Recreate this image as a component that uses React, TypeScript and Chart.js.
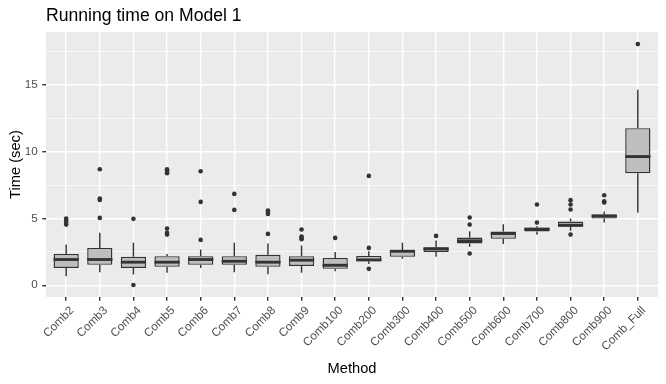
import React, { useEffect, useRef } from 'react';
import { Chart, registerables } from 'chart.js';

Chart.register(...registerables);

const categories = [
  'Comb2', 'Comb3', 'Comb4', 'Comb5', 'Comb6', 'Comb7', 'Comb8', 'Comb9', 'Comb100',
  'Comb200', 'Comb300', 'Comb400', 'Comb500', 'Comb600', 'Comb700', 'Comb800', 'Comb900', 'Comb_Full',
];
const lowerWhisker = [0.68, 0.98, 0.8, 0.93, 1.3, 0.98, 0.83, 0.93, 1.05, 1.6, 1.98, 2.13, 2.88, 3.1, 3.78, 4.08, 4.7, 5.43];
const lowerQuartile = [1.3, 1.53, 1.3, 1.38, 1.53, 1.53, 1.38, 1.45, 1.23, 1.8, 2.13, 2.5, 3.13, 3.48, 4.03, 4.38, 5.0, 8.4];
const medians = [1.93, 1.93, 1.73, 1.73, 1.93, 1.8, 1.73, 1.88, 1.5, 1.9, 2.55, 2.73, 3.33, 3.88, 4.2, 4.5, 5.2, 9.65];
const upperQuartile = [2.35, 2.8, 2.13, 2.18, 2.18, 2.18, 2.28, 2.18, 2.05, 2.2, 2.65, 2.85, 3.58, 4.03, 4.33, 4.78, 5.3, 11.78];
const upperWhisker = [3.05, 3.93, 3.18, 2.35, 2.68, 3.18, 3.13, 2.98, 2.5, 2.55, 3.18, 3.35, 4.05, 4.58, 4.45, 5.0, 5.53, 14.65];
const outliers: number[][] = [
  [4.55, 4.7, 4.85, 5.0],
  [5.05, 6.4, 6.5, 8.7],
  [0.02, 4.98],
  [3.8, 3.93, 4.25, 8.4, 8.5, 8.6, 8.7],
  [3.4, 6.25, 8.55],
  [5.65, 6.85],
  [3.85, 5.35, 5.5, 5.6],
  [3.45, 3.55, 3.65, 4.18],
  [3.55],
  [1.23, 2.8, 8.2],
  [],
  [3.7],
  [2.38, 4.55, 5.08],
  [],
  [4.7, 6.05],
  [3.8, 5.68, 6.05, 6.38],
  [6.2, 6.3, 6.75],
  [18.08],
];
const yMajorTicks = [0, 5, 10, 15];
const yMinorTicks = [2.5, 7.5, 12.5, 17.5];
const yMin = -0.88;
const yMax = 18.98;

const FONT = 'Liberation Sans, Arial, Helvetica, sans-serif';
const DARK = '#333333';

const boxPlugin = {
  id: 'ggBox',
  beforeDraw(chart: any) {
    const { ctx, chartArea: a } = chart;
    ctx.save();
    ctx.fillStyle = '#EBEBEB';
    ctx.fillRect(a.left, a.top, a.right - a.left, a.bottom - a.top);
    ctx.restore();
  },
  beforeDatasetsDraw(chart: any) {
    const { ctx } = chart;
    const xs = chart.scales.x;
    const ys = chart.scales.y;
    ctx.save();
    ctx.strokeStyle = DARK;
    ctx.lineWidth = 1.42;
    ctx.lineCap = 'butt';
    categories.forEach((_, i) => {
      const x = xs.getPixelForValue(i);
      ctx.beginPath();
      ctx.moveTo(x, ys.getPixelForValue(upperQuartile[i]));
      ctx.lineTo(x, ys.getPixelForValue(upperWhisker[i]));
      ctx.moveTo(x, ys.getPixelForValue(lowerQuartile[i]));
      ctx.lineTo(x, ys.getPixelForValue(lowerWhisker[i]));
      ctx.stroke();
    });
    ctx.restore();
  },
  afterDatasetDraw(chart: any, args: any) {
    if (args.index !== 0) return;
    const { ctx } = chart;
    const ys = chart.scales.y;
    const meta = chart.getDatasetMeta(0);
    ctx.save();
    ctx.strokeStyle = DARK;
    ctx.lineWidth = 2.85;
    ctx.lineCap = 'butt';
    meta.data.forEach((bar: any, i: number) => {
      const y = ys.getPixelForValue(medians[i]);
      ctx.beginPath();
      ctx.moveTo(bar.x - bar.width / 2, y);
      ctx.lineTo(bar.x + bar.width / 2, y);
      ctx.stroke();
    });
    ctx.restore();
  },
};

export default function App() {
  const ref = useRef<HTMLCanvasElement>(null);
  useEffect(() => {
    document.body.style.margin = '0';
    const isMajor = (ctx: any) => ctx.tick && yMajorTicks.includes(ctx.tick.value);
    const chart = new Chart(ref.current as HTMLCanvasElement, {
      type: 'bar',
      data: {
        datasets: [
          {
            type: 'bar',
            order: 1,
            data: categories.map((_, i) => ({ x: i, y: [lowerQuartile[i], upperQuartile[i]] })) as any,
            backgroundColor: '#BEBEBE',
            borderColor: DARK,
            borderWidth: 1.42,
            borderSkipped: false,
            categoryPercentage: 1,
            barPercentage: 0.75,
          } as any,
          {
            type: 'scatter',
            order: 0,
            data: categories.flatMap((_, i) => outliers[i].map((v) => ({ x: i, y: v }))),
            backgroundColor: DARK,
            borderColor: DARK,
            borderWidth: 0,
            pointRadius: 2.3,
          } as any,
        ],
      },
      options: {
        animation: false,
        responsive: false,
        layout: { padding: { left: 0, right: 8, top: 0, bottom: 0 } },
        plugins: {
          legend: { display: false },
          tooltip: { enabled: false },
          title: {
            display: true,
            text: 'Running time on Model 1',
            align: 'start',
            fullSize: false,
            color: '#000000',
            font: { family: FONT, size: 17.6, weight: 'normal' },
            padding: { top: 6, bottom: 5 },
          },
        },
        scales: {
          x: {
            type: 'linear',
            min: -0.6,
            max: categories.length - 1 + 0.6,
            offset: false,
            afterBuildTicks: (s: any) => {
              s.ticks = categories.map((_, i) => ({ value: i }));
            },
            afterFit: (s: any) => {
              s.height = 87;
            },
            ticks: {
              autoSkip: false,
              minRotation: 45,
              maxRotation: 45,
              padding: 3,
              labelOffset: 6,
              color: '#4D4D4D',
              font: { family: FONT, size: 11.73 },
              callback: (_v: any, index: number) => categories[index],
            },
            grid: {
              offset: false,
              color: '#FFFFFF',
              lineWidth: 1.42,
              tickColor: DARK,
              tickLength: 3.7,
              tickWidth: 1.42,
            },
            border: { display: false },
            title: {
              display: true,
              text: 'Method',
              color: '#000000',
              font: { family: FONT, size: 14.67 },
              padding: { top: 0, bottom: 6 },
            },
          } as any,
          y: {
            type: 'linear',
            min: yMin,
            max: yMax,
            afterBuildTicks: (s: any) => {
              s.ticks = [...yMajorTicks, ...yMinorTicks].sort((a, b) => a - b).map((v) => ({ value: v }));
            },
            afterFit: (s: any) => {
              s.width = 46;
            },
            ticks: {
              padding: 4.5,
              color: '#4D4D4D',
              font: { family: FONT, size: 11.73 },
              callback: (v: any) => (yMajorTicks.includes(v) ? String(v) : ''),
            },
            grid: {
              color: '#FFFFFF',
              lineWidth: (ctx: any) => (isMajor(ctx) ? 1.42 : 0.71),
              tickColor: (ctx: any) => (isMajor(ctx) ? DARK : 'rgba(0,0,0,0)'),
              tickLength: 3.7,
              tickWidth: 1.42,
            },
            border: { display: false },
            title: {
              display: true,
              text: 'Time (sec)',
              color: '#000000',
              font: { family: FONT, size: 14.67 },
              padding: { top: 7, bottom: 0 },
            },
          } as any,
        },
      },
      plugins: [boxPlugin],
    } as any);
    return () => chart.destroy();
  }, []);
  return (
    <div style={{ width: 666, height: 384 }}>
      <canvas ref={ref} width={666} height={384} style={{ display: 'block' }} />
    </div>
  );
}
